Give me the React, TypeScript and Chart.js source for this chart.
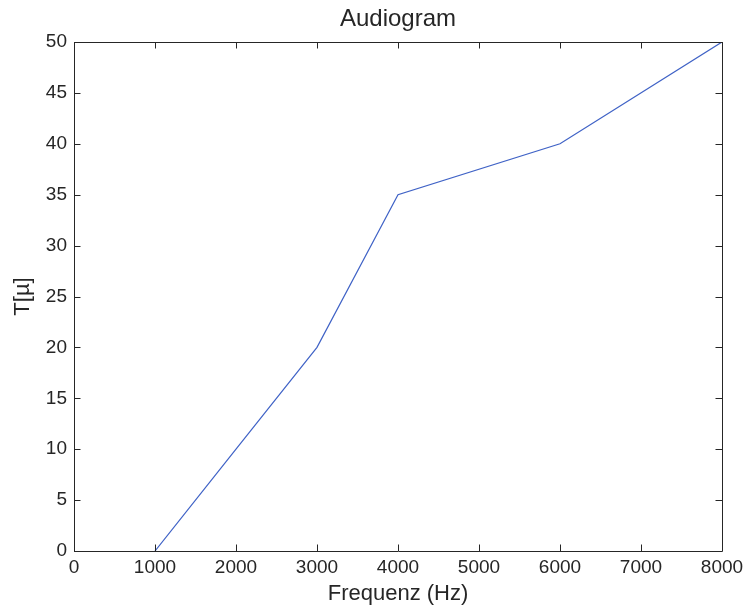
import React, { useEffect, useRef } from "react";
import { Chart, registerables } from "chart.js";

Chart.register(...registerables);

const frequencies = [1000, 2000, 3000, 4000, 6000, 8000];
const thresholds = [0, 10, 20, 35, 40, 50];
const xTicks = [0, 1000, 2000, 3000, 4000, 5000, 6000, 7000, 8000];
const yTicks = [0, 5, 10, 15, 20, 25, 30, 35, 40, 45, 50];

const chartTitle = "Audiogram";
const xTitle = "Frequenz (Hz)";
const yTitle = "T[µ]";

const FONT = "'Liberation Sans', Arial, Helvetica, sans-serif";
const INK = "#262626";

const boxTicksPlugin = {
  id: "boxTicks",
  afterDatasetsDraw(chart: any) {
    const { ctx, chartArea } = chart;
    const { left, right, top, bottom } = chartArea;
    const xs = chart.scales.x;
    const ys = chart.scales.y;
    const len = 6.5;
    ctx.save();
    ctx.strokeStyle = INK;
    ctx.lineWidth = 1;
    ctx.beginPath();
    ctx.rect(Math.round(left) + 0.5, Math.round(top) + 0.5, Math.round(right - left), Math.round(bottom - top));
    for (const v of xTicks) {
      const px = Math.round(xs.getPixelForValue(v)) + 0.5;
      ctx.moveTo(px, bottom);
      ctx.lineTo(px, bottom - len);
      ctx.moveTo(px, top);
      ctx.lineTo(px, top + len);
    }
    for (const v of yTicks) {
      const py = Math.round(ys.getPixelForValue(v)) + 0.5;
      ctx.moveTo(left, py);
      ctx.lineTo(left + len, py);
      ctx.moveTo(right, py);
      ctx.lineTo(right - len, py);
    }
    ctx.stroke();
    ctx.restore();
  },
};

export default function App() {
  const canvasRef = useRef<HTMLCanvasElement | null>(null);

  useEffect(() => {
    if (!canvasRef.current) return;
    const chart = new Chart(canvasRef.current, {
      type: "scatter",
      data: {
        datasets: [
          {
            data: frequencies.map((f, i) => ({ x: f, y: thresholds[i] })),
            showLine: true,
            borderColor: "#3f62c6",
            borderWidth: 1.2,
            pointRadius: 0,
            pointHoverRadius: 0,
            tension: 0,
          },
        ],
      },
      options: {
        responsive: false,
        animation: false,
        events: [],
        layout: { padding: { left: 0, right: 22, top: 0, bottom: 0 } },
        plugins: {
          legend: { display: false },
          tooltip: { enabled: false },
          title: {
            display: true,
            text: chartTitle,
            fullSize: false,
            color: INK,
            font: { family: FONT, size: 24, weight: "normal", lineHeight: 1.2 },
            padding: { top: 4.6, bottom: 8.6 },
          },
        },
        scales: {
          x: {
            type: "linear",
            min: 0,
            max: 8000,
            afterBuildTicks: (scale: any) => {
              scale.ticks = xTicks.map((v) => ({ value: v }));
            },
            afterFit: (scale: any) => {
              scale.height = 59;
              scale.paddingLeft = 0;
              scale.paddingRight = 0;
            },
            grid: { display: false, drawTicks: false },
            border: { display: false },
            ticks: {
              color: INK,
              padding: 5,
              maxRotation: 0,
              font: { family: FONT, size: 19 },
              callback: (v: any) => String(v),
            },
            title: {
              display: true,
              text: xTitle,
              color: INK,
              font: { family: FONT, size: 22, lineHeight: 1.2 },
              padding: { top: 0, bottom: 3 },
            },
          },
          y: {
            type: "linear",
            min: 0,
            max: 50,
            afterBuildTicks: (scale: any) => {
              scale.ticks = yTicks.map((v) => ({ value: v }));
            },
            afterFit: (scale: any) => {
              scale.width = 74;
              scale.paddingTop = 0;
              scale.paddingBottom = 0;
            },
            grid: { display: false, drawTicks: false },
            border: { display: false },
            ticks: {
              color: INK,
              padding: 7,
              font: { family: FONT, size: 19 },
              callback: (v: any) => String(v),
            },
            title: {
              display: true,
              text: yTitle,
              color: INK,
              font: { family: FONT, size: 22, lineHeight: 1.2 },
              padding: { top: 10, bottom: 0 },
            },
          },
        },
      },
      plugins: [boxTicksPlugin],
    });
    return () => chart.destroy();
  }, []);

  return (
    <div style={{ position: "fixed", left: 0, top: 0, width: 744, height: 610, background: "#fff" }}>
      <canvas ref={canvasRef} width={744} height={610} style={{ display: "block" }} />
    </div>
  );
}
